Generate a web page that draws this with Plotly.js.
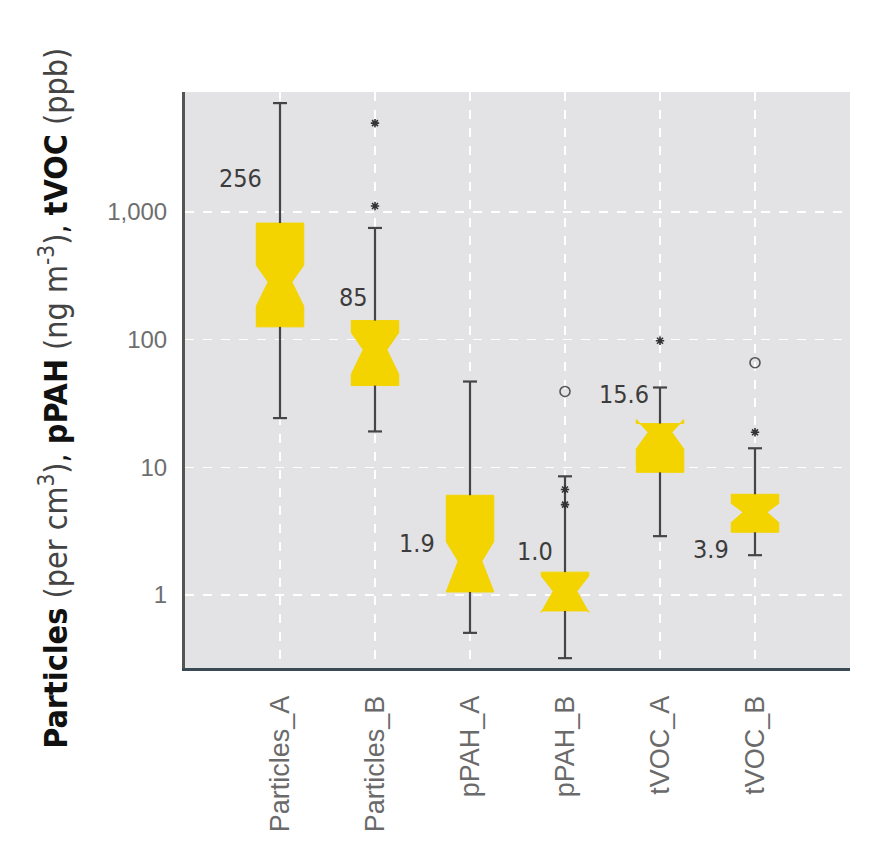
<!DOCTYPE html>
<html>
<head>
<meta charset="utf-8">
<script src="https://cdn.plot.ly/plotly-3.0.1.min.js"></script>
<style>html,body{margin:0;padding:0;background:#fff;}#chart{width:870px;height:857px;}</style>
</head>
<body>
<div id="chart"></div>
<script>
// ---- data ----
const categories  = ['Particles_A', 'Particles_B', 'pPAH_A', 'pPAH_B', 'tVOC_A', 'tVOC_B'];
const lowerFence  = [24.3, 19.1, 0.505, 0.32, 2.89, 2.05];
const q1          = [126, 43.7, 1.055, 0.75, 9.14, 3.1];
const median      = [283, 83.5, 1.84, 1.07, 18.8, 4.45];
const q3          = [819, 141, 6.04, 1.51, 22, 6.15];
const upperFence  = [7130, 750, 47, 8.5, 42.2, 14.1];
const notchSpan   = [100, 30, 0.78, 0.34, 4.9, 0.76];

const starCats    = ['Particles_B', 'Particles_B', 'pPAH_B', 'pPAH_B', 'tVOC_A', 'tVOC_B'];
const starValues  = [4970, 1114, 6.7, 5.1, 98, 18.8];
const circleCats  = ['pPAH_B', 'tVOC_B'];
const circleValues= [39.3, 66];

const labelTexts  = ['256', '85', '1.9', '1.0', '15.6', '3.9'];

const yTickValues = [1, 10, 100, 1000];
const yTickLabels = ['1', '10', '100', '1,000'];

// ---- styling ----
const FONT = 'Liberation Sans, Arial, sans-serif';
const NARROW = 'Liberation Sans Narrow, DejaVu Sans Condensed, Liberation Sans, sans-serif';
const YELLOW = '#f4d400';
const DARK = '#454545';

// whisker segments built from the arrays
const wx = [], wy = [];
categories.forEach((c, i) => {
  wx.push(c, c, null, c, c, null);
  wy.push(q3[i], upperFence[i], null, q1[i], lowerFence[i], null);
});

const traces = [
  {
    type: 'box',
    x: categories,
    q1: q1, median: median, q3: q3,
    lowerfence: q1, upperfence: q3,
    notched: true, notchspan: notchSpan, notchwidth: 0.25,
    width: 0.5, whiskerwidth: 0,
    boxpoints: false,
    fillcolor: YELLOW,
    line: {color: YELLOW, width: 1},
    hoverinfo: 'skip',
    showlegend: false
  },
  {
    type: 'scatter', mode: 'lines',
    x: wx, y: wy,
    line: {color: DARK, width: 2.2},
    hoverinfo: 'skip', showlegend: false
  },
  {
    type: 'scatter', mode: 'markers',
    x: categories.concat(categories),
    y: upperFence.concat(lowerFence),
    marker: {symbol: 'line-ew', size: 10, line: {color: DARK, width: 2.2}},
    hoverinfo: 'skip', showlegend: false
  },
  {
    type: 'scatter', mode: 'markers',
    x: starCats, y: starValues,
    marker: {symbol: 'asterisk', size: 7, line: {color: '#333', width: 1.6}},
    hoverinfo: 'skip', showlegend: false
  },
  {
    type: 'scatter', mode: 'markers',
    x: circleCats, y: circleValues,
    marker: {symbol: 'circle-open', size: 10, color: '#555', line: {color: '#555', width: 1.6}},
    hoverinfo: 'skip', showlegend: false
  }
];

// label placements (layout only)
const labelPlace = [
  {y: 3.266, dx: -16},
  {y: 2.334, dx: -5},
  {y: 0.407, dx: -33},
  {y: 0.337, dx: -10},
  {y: 1.574, dx: -9},
  {y: 0.360, dx: -24}
];
const annotations = labelTexts.map((t, i) => ({
  x: categories[i], y: labelPlace[i].y, xref: 'x', yref: 'y',
  text: t, showarrow: false, xanchor: 'right', yanchor: 'middle',
  xshift: labelPlace[i].dx,
  font: {family: NARROW, size: 25, color: '#3c3c3c'}
}));

const layout = {
  width: 870, height: 857,
  margin: {l: 185, r: 20, t: 92, b: 189},
  paper_bgcolor: '#ffffff',
  plot_bgcolor: '#e3e3e5',
  showlegend: false,
  xaxis: {
    type: 'category',
    categoryarray: categories, categoryorder: 'array',
    range: [-1, 6],
    showgrid: true, gridcolor: '#ffffff', gridwidth: 1.5, griddash: 'dash',
    showline: true, linecolor: '#3a4a55', linewidth: 3,
    ticks: '', tickangle: -90, ticklabelstandoff: 14,
    tickfont: {family: FONT, size: 27, color: '#6a6a6a'},
    zeroline: false
  },
  yaxis: {
    type: 'log',
    range: [-0.572, 3.94],
    tickvals: yTickValues, ticktext: yTickLabels,
    showgrid: true, gridcolor: '#ffffff', gridwidth: 1.5, griddash: 'dash',
    showline: true, linecolor: '#555555', linewidth: 3,
    ticks: '', ticklabelstandoff: 10,
    tickfont: {family: FONT, size: 24, color: '#6e6e6e'},
    zeroline: false,
    title: {
      text: '<b>Particles</b> <span style="color:#444">(per cm<sup>3</sup>)</span>, <b>pPAH</b> <span style="color:#444">(ng m<sup>-3</sup>)</span>, <b>tVOC</b> <span style="color:#444">(ppb)</span>&nbsp;&nbsp;&nbsp;&nbsp;',
      font: {family: NARROW, size: 32, color: '#111'},
      standoff: 30
    }
  },
  annotations: annotations
};

Plotly.newPlot('chart', traces, layout, {displayModeBar: false, staticPlot: true});
</script>
</body>
</html>
